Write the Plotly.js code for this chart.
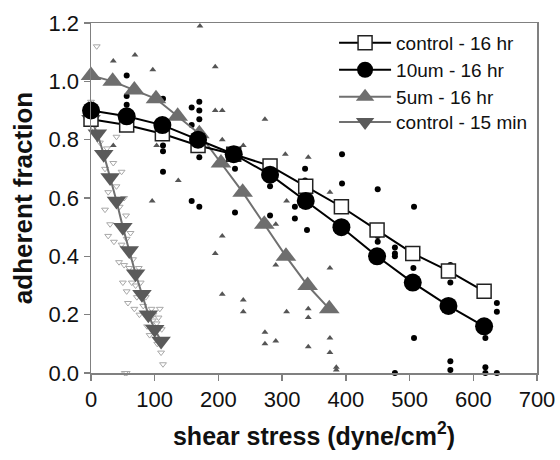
<!DOCTYPE html>
<html>
<head>
<meta charset="utf-8">
<script src="https://cdn.plot.ly/plotly-3.0.1.min.js"></script>
<style>html,body{margin:0;padding:0;background:#fff;}#chart{width:560px;height:460px;}</style>
</head>
<body>
<div id="chart"></div>
<script>
// Main averaged series
const ctrl16X = [0, 56, 112, 168, 224, 281, 337, 393, 449, 505, 561, 617];
const ctrl16Y = [0.87, 0.85, 0.82, 0.78, 0.75, 0.71, 0.64, 0.57, 0.49, 0.41, 0.35, 0.28];
const um10X = [0, 56, 112, 168, 224, 281, 337, 393, 449, 505, 561, 617];
const um10Y = [0.90, 0.88, 0.85, 0.80, 0.75, 0.68, 0.59, 0.50, 0.40, 0.31, 0.23, 0.16];
const um5X = [0, 34, 68, 102, 136, 170, 204, 238, 272, 306, 340, 374];
const um5Y = [1.02, 1.00, 0.97, 0.94, 0.88, 0.82, 0.72, 0.62, 0.51, 0.40, 0.30, 0.22];
const ctrl15X = [0, 10, 20, 30, 40, 50, 60, 70, 80, 90, 100, 110];
const ctrl15Y = [0.87, 0.82, 0.75, 0.67, 0.59, 0.50, 0.42, 0.34, 0.27, 0.20, 0.15, 0.11];

// Raw individual measurements
const raw10X = [56, 56, 56, 0, 113, 113, 113, 113, 158, 170, 170, 170, 158, 170, 158, 170, 226, 226, 281, 281, 281, 320, 320, 336, 339, 336, 394, 394, 394, 394, 450, 450, 450, 507, 477, 477, 477, 506, 507, 477, 564, 564, 564, 564, 619, 619, 619, 619, 637, 637, 637];
const raw10Y = [1.02, 0.95, 0.92, 0.92, 0.94, 0.78, 0.76, 0.69, 0.91, 0.93, 0.90, 0.87, 0.85, 0.74, 0.59, 0.57, 0.70, 0.55, 0.71, 0.64, 0.54, 0.57, 0.53, 0.66, 0.49, 0.70, 0.75, 0.65, 0.58, 0.56, 0.63, 0.47, 0.45, 0.57, 0.43, 0.41, 0.40, 0.36, 0.12, 0.00, 0.37, 0.31, 0.04, 0.01, 0.29, 0.12, 0.02, 0.00, 0.24, 0.21, 0.00];
const raw5X = [35, 69, 97, 171, 195, 195, 206, 273, 35, 103, 137, 96, 206, 239, 305, 307, 290, 206, 195, 290, 206, 239, 239, 307, 273, 273, 290, 341, 375, 375, 341, 341, 375, 375, 341, 385, 385];
const raw5Y = [1.07, 1.09, 1.04, 1.19, 1.05, 0.90, 0.90, 0.87, 0.78, 0.78, 0.66, 0.59, 0.80, 0.78, 0.75, 0.59, 0.51, 0.47, 0.41, 0.37, 0.27, 0.25, 0.21, 0.21, 0.14, 0.10, 0.11, 0.74, 0.62, 0.36, 0.22, 0.19, 0.12, 0.07, 0.09, 0.02, 0.01];
const raw15X = [9, 0, 4, 14, 40, 25, 22, 35, 48, 40, 27, 22, 30, 27, 45, 52, 55, 36, 48, 56, 62, 44, 52, 60, 66, 50, 56, 58, 64, 70, 75, 72, 78, 68, 76, 82, 86, 88, 95, 98, 92, 97, 103, 106, 108, 104, 110, 113, 111, 53, 56];
const raw15Y = [1.12, 0.93, 0.84, 0.79, 0.81, 0.77, 0.70, 0.72, 0.69, 0.64, 0.62, 0.56, 0.51, 0.47, 0.57, 0.60, 0.54, 0.45, 0.44, 0.46, 0.48, 0.38, 0.37, 0.36, 0.39, 0.31, 0.28, 0.24, 0.31, 0.30, 0.36, 0.26, 0.31, 0.22, 0.20, 0.23, 0.26, 0.16, 0.22, 0.20, 0.13, 0.18, 0.17, 0.19, 0.22, 0.10, 0.07, 0.03, 0.15, 0.00, 0.00];

const names = ['control - 16 hr', '10um - 16 hr', '5um - 16 hr', 'control - 15 min'];
const xTicks = [0, 100, 200, 300, 400, 500, 600, 700];
const yTicks = [0.0, 0.2, 0.4, 0.6, 0.8, 1.0, 1.2];

const FONT = 'Arial, "Liberation Sans", sans-serif';
const grayTri = '#6e6e6e';
const grayDown = '#5a5a5a';

const traces = [
  {x: raw15X, y: raw15Y, mode: 'markers', type: 'scatter', showlegend: false, cliponaxis: false,
   marker: {symbol: 'triangle-down-open', size: 6, color: '#a8a8a8', line: {width: 1}}},
  {x: raw5X, y: raw5Y, mode: 'markers', type: 'scatter', showlegend: false, cliponaxis: false,
   marker: {symbol: 'triangle-up', size: 6, color: '#555555'}},
  {x: raw10X, y: raw10Y, mode: 'markers', type: 'scatter', showlegend: false, cliponaxis: false,
   marker: {symbol: 'circle', size: 6, color: '#000000'}},
  {x: ctrl15X, y: ctrl15Y, name: names[3], legend: 'legend4', mode: 'lines+markers', type: 'scatter', cliponaxis: false,
   line: {color: '#707070', width: 2}, marker: {symbol: 'triangle-down', size: 17, color: grayDown}},
  {x: um5X, y: um5Y, name: names[2], legend: 'legend3', mode: 'lines+markers', type: 'scatter', cliponaxis: false,
   line: {color: '#707070', width: 2}, marker: {symbol: 'triangle-up', size: 18, color: grayTri}},
  {x: ctrl16X, y: ctrl16Y, name: names[0], legend: 'legend', mode: 'lines+markers', type: 'scatter', cliponaxis: false,
   line: {color: '#000000', width: 2}, marker: {symbol: 'square', size: 14, color: '#ffffff', line: {color: '#222222', width: 1.5}}},
  {x: um10X, y: um10Y, name: names[1], legend: 'legend2', mode: 'lines+markers', type: 'scatter', cliponaxis: false,
   line: {color: '#000000', width: 2}, marker: {symbol: 'circle', size: 18, color: '#000000'}}
];

function leg(yv) {
  return {x: 0.545, y: yv, xanchor: 'left', yanchor: 'middle', bgcolor: 'rgba(0,0,0,0)',
          font: {family: FONT, size: 19, color: '#111111'}, itemwidth: 52, borderwidth: 0};
}

const layout = {
  width: 560, height: 460,
  margin: {l: 91, r: 23, t: 23, b: 87},
  paper_bgcolor: '#ffffff', plot_bgcolor: '#ffffff',
  font: {family: FONT, color: '#111111'},
  showlegend: true,
  legend: leg(0.943),
  legend2: leg(0.866),
  legend3: leg(0.789),
  legend4: leg(0.717),
  xaxis: {
    range: [0, 700], tickvals: xTicks, ticktext: xTicks.map(String),
    showgrid: false, zeroline: false, showline: true, linecolor: '#808080', linewidth: 1.5, mirror: true,
    ticks: 'outside', ticklen: 6, tickcolor: '#808080', tickwidth: 1.5,
    tickfont: {family: FONT, size: 22, color: '#111111'},
    title: {text: '<b>shear stress (dyne/cm<sup>2</sup>)</b>', font: {family: FONT, size: 25, color: '#111111'}, standoff: 16}
  },
  yaxis: {
    range: [0, 1.2], tickvals: yTicks, ticktext: yTicks.map(v => v.toFixed(1)),
    showgrid: false, zeroline: false, showline: true, linecolor: '#808080', linewidth: 1.5, mirror: true,
    ticks: 'outside', ticklen: 6, tickcolor: '#808080', tickwidth: 1.5,
    tickfont: {family: FONT, size: 22, color: '#111111'},
    title: {text: '<b>adherent fraction</b>', font: {family: FONT, size: 26, color: '#111111'}, standoff: 8}
  }
};

Plotly.newPlot('chart', traces, layout, {staticPlot: true, displayModeBar: false});
</script>
</body>
</html>
